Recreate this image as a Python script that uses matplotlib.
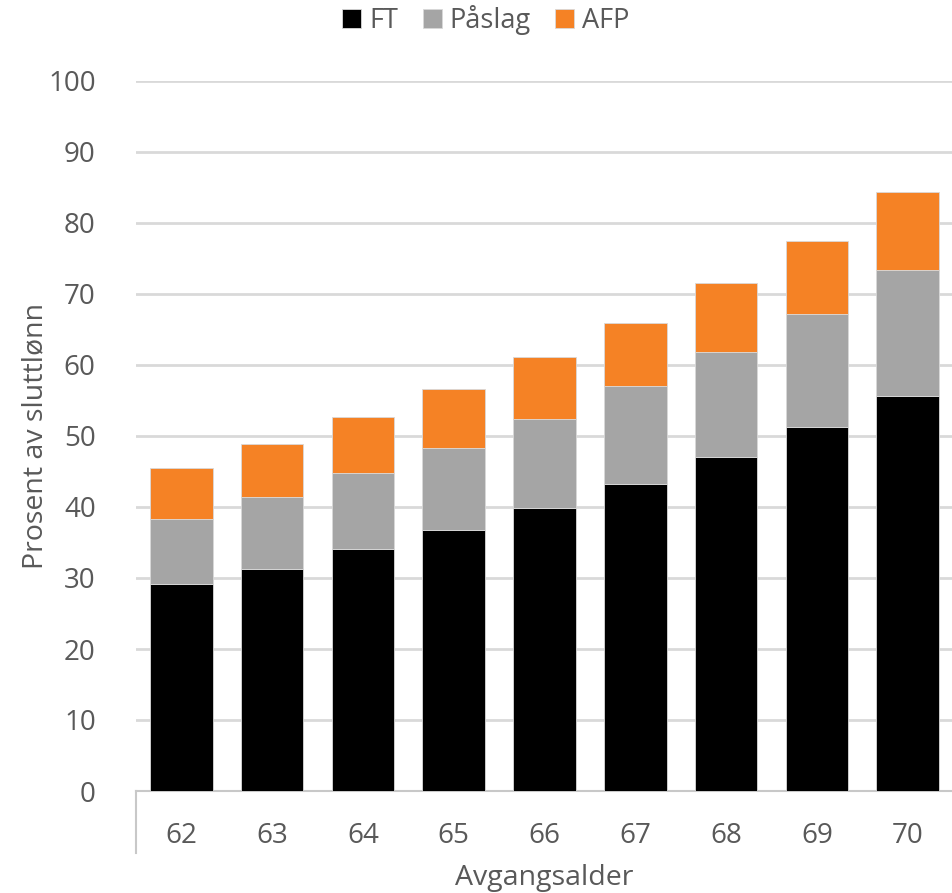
import matplotlib
matplotlib.use("Agg")
import matplotlib.pyplot as plt
import numpy as np

categories = ["62", "63", "64", "65", "66", "67", "68", "69", "70"]
ft = [29.2, 31.3, 34.1, 36.8, 39.9, 43.2, 47.0, 51.3, 55.7]
paslag_top = [38.3, 41.4, 44.8, 48.3, 52.4, 57.0, 61.8, 67.2, 73.4]
afp_top = [45.5, 48.9, 52.7, 56.6, 61.1, 65.9, 71.5, 77.5, 84.3]

paslag = [p - f for p, f in zip(paslag_top, ft)]
afp = [a - p for a, p in zip(afp_top, paslag_top)]

plt.rcParams['font.family'] = ['Open Sans', 'DejaVu Sans']
txt = '#595959'

fig = plt.figure(figsize=(9.53, 8.93), dpi=100)
ax = fig.add_axes([136/953, 1-791/893, 1-136/953, (791-81)/893])

x = np.arange(len(categories))
w = 0.69
ec = '#d9d9d9'
ax.bar(x, ft, w, color='#000000', label='FT', edgecolor=ec, linewidth=0.6, zorder=3)
ax.bar(x, paslag, w, bottom=ft, color='#a5a5a5', label='Påslag', edgecolor=ec, linewidth=0.6, zorder=3)
ax.bar(x, afp, w, bottom=paslag_top, color='#f58225', label='AFP', edgecolor=ec, linewidth=0.6, zorder=3)

ax.set_xlim(-0.5, len(categories) - 0.5)
ax.set_ylim(0, 100)
ax.set_yticks(range(0, 101, 10))
ax.yaxis.grid(True, color='#d9d9d9', linewidth=2)
ax.set_axisbelow(True)
for s in ['top', 'right', 'left']:
    ax.spines[s].set_visible(False)
ax.spines['bottom'].set_color('#c8c8c8')
ax.spines['bottom'].set_linewidth(1.5)
ax.tick_params(axis='y', length=0, pad=29, labelsize=20, labelcolor=txt)
ax.tick_params(axis='x', length=0, pad=22, labelsize=20, labelcolor=txt)
ax.set_xticks(x)
ax.set_xticklabels(categories)

# left category-axis line extending below the plot
ax.plot([-0.5, -0.5], [0, -(853-791)/7.1], color='#c8c8c8', linewidth=1.5, clip_on=False, zorder=4)

fig.text(35/953, 1-436/893, 'Prosent av sluttlønn', rotation=90, ha='center', va='center',
         fontsize=20.5, color=txt)
fig.text((136+953)/2/953, 1-878/893, 'Avgangsalder', ha='center', va='center', fontsize=20.5, color=txt)

leg = fig.legend(loc='center', bbox_to_anchor=(0.51, 1-20/893), ncol=3, frameon=False,
                 fontsize=19.5, handlelength=0.7, handleheight=0.7, handletextpad=0.3,
                 columnspacing=0.9)
for t in leg.get_texts():
    t.set_color(txt)

fig.savefig('out.png', dpi=100)
